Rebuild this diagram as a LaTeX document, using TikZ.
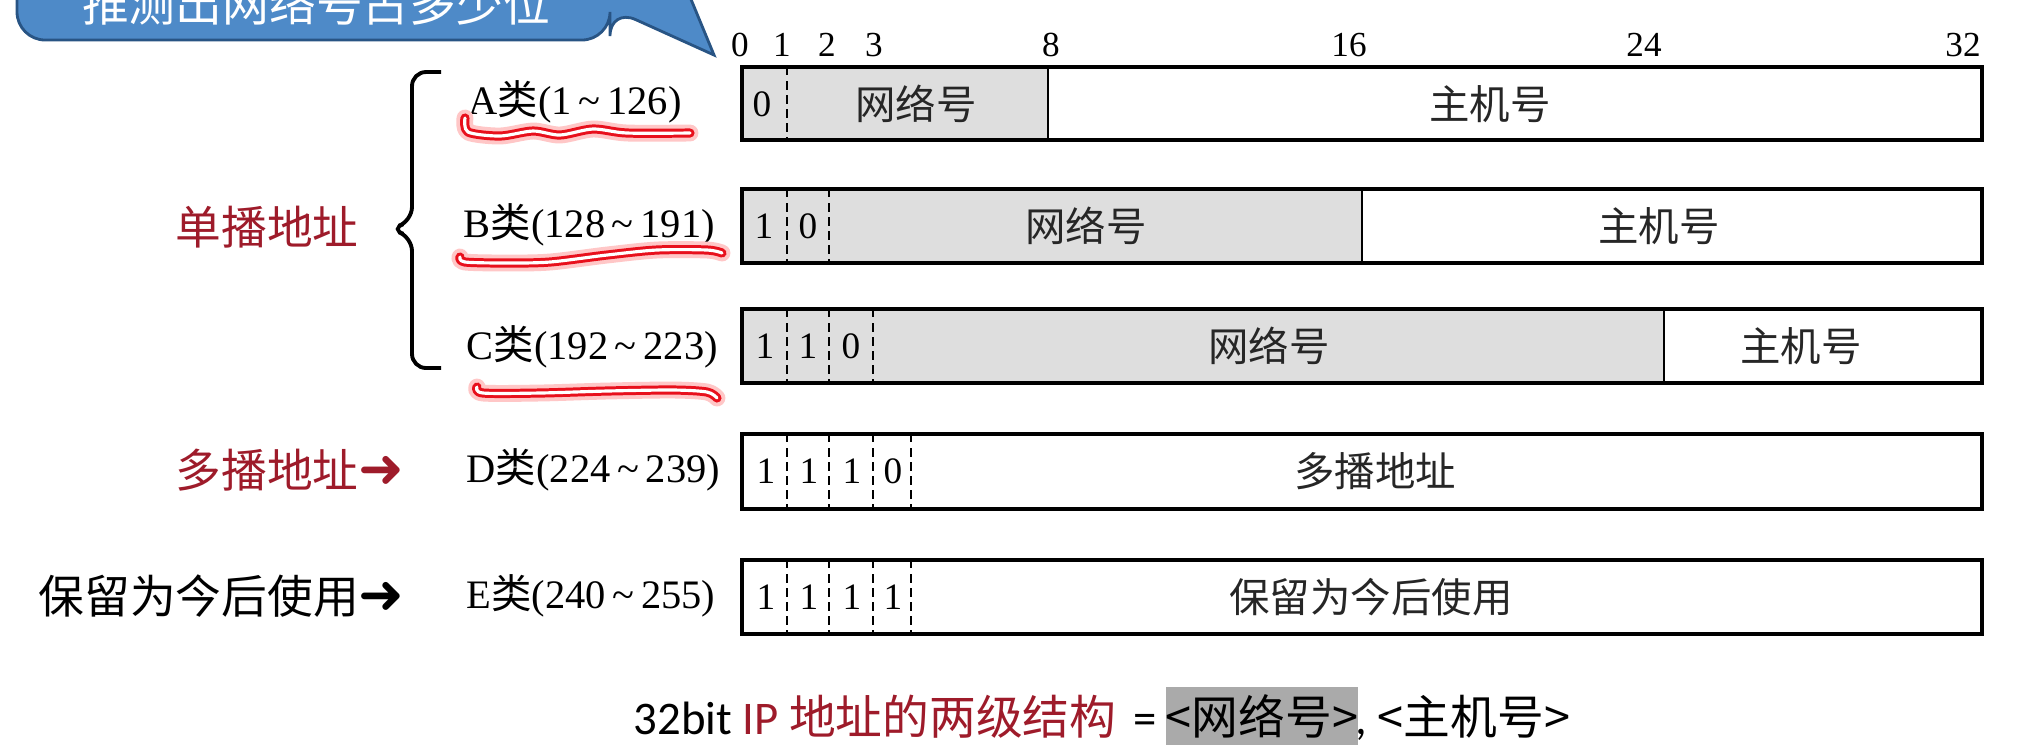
\documentclass[tikz,border=0pt]{standalone}
\usepackage{fontspec}
\setmainfont{Liberation Serif}
\newfontfamily\cjk{Noto Sans CJK SC}
\newfontfamily\cali{Carlito}
\newfontfamily\arrowfont{DejaVu Sans}
\usetikzlibrary{positioning}

\definecolor{netgray}{RGB}{222,222,222}
\definecolor{darkred}{RGB}{158,27,42}
\definecolor{bubbleblue}{RGB}{78,138,200}
\definecolor{bubbleedge}{RGB}{40,84,132}
\definecolor{markgray}{RGB}{170,170,170}
\definecolor{penred}{RGB}{232,16,28}

\newcommand{\penmark}[1]{%
  \draw[penglow] plot[smooth] coordinates {#1};
  \draw[pencore] plot[smooth] coordinates {#1};
  \draw[penshine] plot[smooth] coordinates {#1};}
\newcommand{\upto}{\,\textasciitilde\,}
\newcommand{\pointer}{{\arrowfont\fontsize{15.5pt}{15pt}\selectfont ➜}}

\begin{document}
\begin{tikzpicture}[x=0.01cm, y=-0.01cm,
    fieldbox/.style={draw=black, line width=1.2pt},
    bitline/.style={line width=0.6pt, dash pattern=on 2.4pt off 1.6pt},
    bitnum/.style={font=\fontsize{10pt}{11pt}\selectfont, inner sep=0pt},
    bitval/.style={font=\fontsize{10.6pt}{12pt}\selectfont, inner sep=0pt},
    fieldtext/.style={font=\cjk\fontsize{11.5pt}{13pt}\selectfont, text=black!85, inner sep=0pt},
    classlabel/.style={anchor=west, font=\fontsize{11.5pt}{13pt}\selectfont, inner sep=0pt},
    grouplabel/.style={anchor=west, font=\cjk\fontsize{13pt}{15pt}\selectfont, inner sep=0pt},
    formula/.style={anchor=base west, font=\cjk\fontsize{13.3pt}{15pt}\selectfont, inner sep=0pt},
    bubble/.style={fill=bubbleblue, draw=bubbleedge, line width=0.8pt},
    penglow/.style={draw=red!22, line width=4.8pt, line cap=round, line join=round},
    pencore/.style={draw=penred, line width=2.6pt, line cap=round, line join=round},
    penshine/.style={draw=white, line width=0.9pt, line cap=round, line join=round}]

    \fill[white] (0,0) rectangle (2031,750);
    \useasboundingbox (0,0) rectangle (2031,750);

    % Callout
    \begin{scope}
      \clip (0,0) rectangle (2031,750);
      \draw[bubble] (17,-100) [rounded corners=8pt] -- (17,40) -- (610,40) -- (610,8)
        [sharp corners] -- (714,55) -- (650,-100) -- cycle;
      \node[font=\cjk\fontsize{13.3pt}{15pt}\selectfont, text=white, inner sep=0pt] (hint) at (316,3) {推测出网络号占多少位};
    \end{scope}

    % Bit positions
    \node[bitnum] (p0) at (740,45) {0};
    \node[bitnum] (p1) at (782,45) {1};
    \node[bitnum] (p2) at (827,45) {2};
    \node[bitnum] (p3) at (874,45) {3};
    \node[bitnum] (p8) at (1051,45) {8};
    \node[bitnum] (p16) at (1349,45) {16};
    \node[bitnum] (p24) at (1644,45) {24};
    \node[bitnum] (p32) at (1963,45) {32};

    % Class A
    \fill[netgray] (742,67) rectangle (1048,140);
    \draw[bitline] (787,67) -- (787,140);
    \draw[line width=0.8pt] (1048,67) -- (1048,140);
    \draw[fieldbox] (742,67) rectangle (1982,140);
    \node[bitval] (a1) at (762,104) {0};
    \node[fieldtext] (anet) at (916,104) {网络号};
    \node[fieldtext] (ahost) at (1490,104) {主机号};
    \node[classlabel] (aclass) at (468,102) {A{\cjk 类}(1\upto126)};

    % Class B
    \fill[netgray] (742,189) rectangle (1362,263);
    \draw[bitline] (787,189) -- (787,263);
    \draw[bitline] (829,189) -- (829,263);
    \draw[line width=0.8pt] (1362,189) -- (1362,263);
    \draw[fieldbox] (742,189) rectangle (1982,263);
    \node[bitval] (b1) at (764,226) {1};
    \node[bitval] (b2) at (808,226) {0};
    \node[fieldtext] (bnet) at (1086,226) {网络号};
    \node[fieldtext] (bhost) at (1659,226) {主机号};
    \node[classlabel] (bclass) at (463,225) {B{\cjk 类}(128\upto191)};

    % Class C
    \fill[netgray] (742,309) rectangle (1664,383);
    \draw[bitline] (787,309) -- (787,383);
    \draw[bitline] (829,309) -- (829,383);
    \draw[bitline] (873,309) -- (873,383);
    \draw[line width=0.8pt] (1664,309) -- (1664,383);
    \draw[fieldbox] (742,309) rectangle (1982,383);
    \node[bitval] (c1) at (765,346) {1};
    \node[bitval] (c2) at (808,346) {1};
    \node[bitval] (c3) at (851,346) {0};
    \node[fieldtext] (cnet) at (1269,346) {网络号};
    \node[fieldtext] (chost) at (1801,346) {主机号};
    \node[classlabel] (cclass) at (466,347) {C{\cjk 类}(192\upto223)};

    % Class D
    \draw[bitline] (787,434) -- (787,509);
    \draw[bitline] (829,434) -- (829,509);
    \draw[bitline] (873,434) -- (873,509);
    \draw[bitline] (911,434) -- (911,509);
    \draw[fieldbox] (742,434) rectangle (1982,509);
    \node[bitval] (d1) at (766,471) {1};
    \node[bitval] (d2) at (809,471) {1};
    \node[bitval] (d3) at (852,471) {1};
    \node[bitval] (d4) at (893,471) {0};
    \node[fieldtext] (dmulti) at (1375,471) {多播地址};
    \node[classlabel] (dclass) at (466,470) {D{\cjk 类}(224\upto239)};

    % Class E
    \draw[bitline] (787,560) -- (787,634);
    \draw[bitline] (829,560) -- (829,634);
    \draw[bitline] (873,560) -- (873,634);
    \draw[bitline] (911,560) -- (911,634);
    \draw[fieldbox] (742,560) rectangle (1982,634);
    \node[bitval] (e1) at (766,597) {1};
    \node[bitval] (e2) at (809,597) {1};
    \node[bitval] (e3) at (852,597) {1};
    \node[bitval] (e4) at (893,597) {1};
    \node[fieldtext] (ereserved) at (1371,597) {保留为今后使用};
    \node[classlabel] (eclass) at (466,596) {E{\cjk 类}(240\upto255)};

    % Groups on the left
    \draw[line width=1.1pt, rounded corners=4pt] (441,72) -- (412,72) -- (412,221)
      -- (390,229) -- (412,237) -- (412,368) -- (441,368);
    \node[grouplabel, text=darkred] (unicast) at (175,227) {单播地址};
    \node[grouplabel, text=darkred] (multicast) at (175,470) {多播地址\pointer};
    \node[grouplabel] (reserved) at (38,596) {保留为今后使用\pointer};

    % Pen marks
    \penmark{(465,118) (468,132) (500,136) (533,131) (560,135) (593,129) (627,133) (690,133)}
    \penmark{(460,257) (465,262) (507,263) (550,262) (607,255) (657,250) (707,250) (722,253)}
    \penmark{(477,387) (483,393) (540,393) (607,391) (673,390) (707,392) (717,398)}

    % Two-level structure
    \node[formula] (fbit) at (633,734) {{\cali 32bit} \textcolor{darkred}{{\cali IP} 地址的两级结构}};
    \node[formula] (feq) at (1133,734) {{\cali =}};
    \node[fill=markgray, minimum width=1.9cm, minimum height=0.58cm, inner sep=0pt,
      font=\cjk\fontsize{13.3pt}{15pt}\selectfont] (fnet) at (1262,716) {<网络号>};
    \node[formula] (fhost) at (1355,734) {{\cali ,} <主机号>};
\end{tikzpicture}
\end{document}
